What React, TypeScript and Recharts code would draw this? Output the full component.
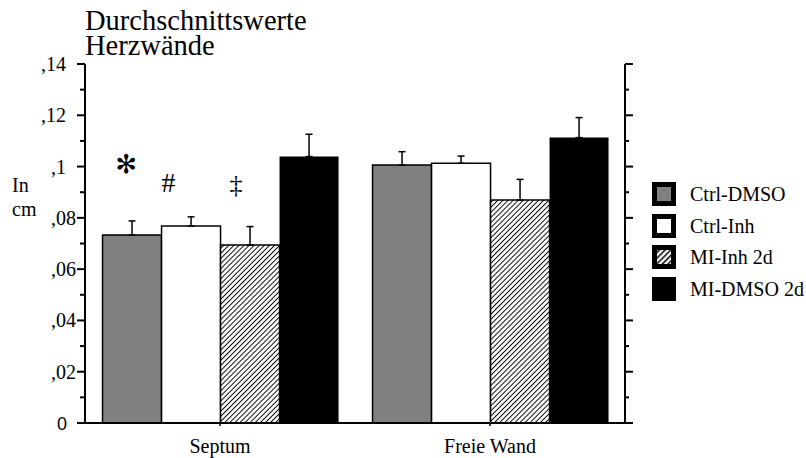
import React from "react";
import { ComposedChart, Bar, Line, XAxis, YAxis, ErrorBar, LabelList, Legend } from "recharts";

const categories = ["Septum", "Freie Wand"];
const seriesNames = ["Ctrl-DMSO", "Ctrl-Inh", "MI-Inh 2d", "MI-DMSO 2d"];

const ctrlDmso = [0.0733, 0.1006];
const ctrlDmsoErr = [0.0055, 0.0052];
const ctrlInh = [0.0768, 0.1013];
const ctrlInhErr = [0.0036, 0.0028];
const miInh = [0.0694, 0.087];
const miInhErr = [0.0072, 0.008];
const miDmso = [0.1039, 0.1113];
const miDmsoErr = [0.0087, 0.0078];

const yTicks = [0, 0.01, 0.02, 0.03, 0.04, 0.05, 0.06, 0.07, 0.08, 0.09, 0.1, 0.11, 0.12, 0.13, 0.14];
const yTickLabels = ["0", ",02", ",04", ",06", ",08", ",1", ",12", ",14"];

// significance marks above the Septum bars (first three series)
const septumMarks = ["✻", "#", "‡"];

const SERIF = "'Liberation Serif', 'Times New Roman', serif";
const SANS = "'Liberation Sans', Arial, sans-serif";

const data = categories.map((name, i) => ({
  name,
  ctrlDmso: ctrlDmso[i],
  ctrlDmsoErr: [0, ctrlDmsoErr[i]],
  ctrlInh: ctrlInh[i],
  ctrlInhErr: [0, ctrlInhErr[i]],
  miInh: miInh[i],
  miInhErr: [0, miInhErr[i]],
  miDmso: miDmso[i],
  miDmsoErr: [0, miDmsoErr[i]],
}));

const series = [
  { key: "ctrlDmso", fill: "#808080" },
  { key: "ctrlInh", fill: "#ffffff" },
  { key: "miInh", fill: "url(#hatch)" },
  { key: "miDmso", fill: "#000000" },
];

// per-mark placement relative to the bar's top-centre (baseline offset)
const markStyle = [
  { dx: -6, dy: -62, size: 26, font: "'DejaVu Sans', sans-serif" },
  { dx: -22.5, dy: -34, size: 28, font: SERIF },
  { dx: -14, dy: -52, size: 26, font: SERIF },
];

const axisStroke = { stroke: "#000", strokeWidth: 2 };
const tickIndex = (v: number) => yTicks.findIndex((t) => Math.abs(t - v) < 1e-9);

// left axis: major ticks 8px with labels, minor ticks 5px
function leftTick(props: any) {
  const { x, y, payload } = props;
  const i = tickIndex(payload.value);
  const major = i % 2 === 0;
  const label = major ? yTickLabels[i / 2] : null;
  let endX = x - 9;
  if (payload.value >= 0.1) endX = x - 19;
  if (i === 0) endX = x - 18;
  return (
    <g key={`lt-${i}`}>
      <path d={`M${x - (major ? 8 : 5)},${y}H${x}`} stroke="#000" strokeWidth={2} fill="none" />
      {label && (
        <text
          x={endX}
          y={y + 7}
          textAnchor="end"
          fontFamily={i === 0 ? SANS : SERIF}
          fontSize={i === 0 ? 18 : 20}
          fill="#000"
        >
          {label}
        </text>
      )}
    </g>
  );
}

// right axis: ticks only, pointing outwards
function rightTick(props: any) {
  const { x, y, payload } = props;
  const i = tickIndex(payload.value);
  const major = i % 2 === 0;
  return (
    <g key={`rt-${i}`}>
      <path d={`M${x},${y}H${x + (major ? 8 : 4)}`} stroke="#000" strokeWidth={2} fill="none" />
    </g>
  );
}

function Swatch({ i }: { i: number }) {
  const inner = ["#808080", "#ffffff", "url(#hatchLegend)", "#000000"][i];
  return (
    <svg width={24} height={24} style={{ display: "block" }}>
      <defs>
        <pattern id="hatchLegend" width={4} height={4} patternUnits="userSpaceOnUse" patternTransform="rotate(45)">
          <rect width={4} height={4} fill="#fff" />
          <line x1={0} y1={0} x2={0} y2={4} stroke="#000" strokeWidth={3} />
        </pattern>
      </defs>
      <rect x={0} y={0} width={24} height={24} fill="#000" />
      <rect x={5} y={5} width={14} height={14} fill={inner} />
    </svg>
  );
}

function LegendBox() {
  return (
    <div style={{ fontFamily: SERIF, fontSize: 20, color: "#000" }}>
      {seriesNames.map((n, i) => (
        <div key={n} style={{ display: "flex", alignItems: "center", height: 31.7 }}>
          <Swatch i={i} />
          <span style={{ marginLeft: 14, lineHeight: "20px" }}>{n}</span>
        </div>
      ))}
    </div>
  );
}

function makeMark(s: number) {
  return (props: any) => {
    const { x, y, width, index } = props;
    if (index !== 0) return null;
    const st = markStyle[s];
    return (
      <text
        x={x + width / 2 + st.dx}
        y={y + st.dy}
        textAnchor="middle"
        fontFamily={st.font}
        fontSize={st.size}
        fill="#000"
      >
        {septumMarks[s]}
      </text>
    );
  };
}

export default function App() {
  return (
    <div style={{ position: "absolute", left: 0, top: 0, width: 806, height: 458, background: "#fff" }}>
      <ComposedChart
        width={806}
        height={458}
        data={data}
        margin={{ top: 64, right: 161, left: 25, bottom: 0 }}
        barCategoryGap="6.5%"
        barGap={0}
      >
        <defs>
          <pattern id="hatch" width={3.6} height={3.6} patternUnits="userSpaceOnUse" patternTransform="rotate(45)">
            <rect width={3.6} height={3.6} fill="#fff" />
            <line x1={0} y1={0} x2={0} y2={3.6} stroke="#000" strokeWidth={1.9} />
          </pattern>
        </defs>
        <text x={85} y={30} fontFamily={SERIF} fontSize={28.5} fill="#000">
          Durchschnittswerte
        </text>
        <text x={85} y={55} fontFamily={SERIF} fontSize={28.5} fill="#000">
          Herzwände
        </text>
        <text x={12} y={192} fontFamily={SERIF} fontSize={20} fill="#000">
          In
        </text>
        <text x={12} y={216} fontFamily={SERIF} fontSize={20} fill="#000">
          cm
        </text>
        <XAxis
          dataKey="name"
          height={35}
          axisLine={axisStroke}
          tickLine={{ stroke: "#000", strokeWidth: 1.5 }}
          tickSize={3}
          tickMargin={13}
          tick={{ fill: "#000", fontFamily: SERIF, fontSize: 20 }}
        />
        <XAxis
          xAxisId="top"
          dataKey="name"
          orientation="top"
          height={0}
          axisLine={axisStroke}
          tickLine={{ stroke: "#000", strokeWidth: 1.5 }}
          tickSize={4}
          tick={false}
        />
        <YAxis
          domain={[0, 0.14]}
          ticks={yTicks}
          interval={0}
          width={60}
          axisLine={axisStroke}
          tickLine={false}
          tickSize={0}
          tickMargin={0}
          tick={leftTick}
        />
        <YAxis
          yAxisId="right"
          orientation="right"
          domain={[0, 0.14]}
          ticks={yTicks}
          interval={0}
          width={20}
          axisLine={axisStroke}
          tickLine={false}
          tickSize={0}
          tickMargin={0}
          tick={rightTick}
        />
        <Legend
          layout="horizontal"
          align="center"
          verticalAlign="middle"
          content={() => <LegendBox />}
          wrapperStyle={{ left: 652, top: 178, width: 154, height: 130 }}
        />
        {series.map((s, i) => (
          <Bar
            key={s.key}
            dataKey={s.key}
            name={seriesNames[i]}
            fill={s.fill}
            stroke="#000"
            strokeWidth={i === 3 ? 0 : 1.5}
            isAnimationActive={false}
          >
            <ErrorBar dataKey={`${s.key}Err`} width={3.5} stroke="#000" strokeWidth={1.5} direction="y" />
            {i < 3 && <LabelList dataKey={s.key} content={makeMark(i)} />}
          </Bar>
        ))}
        {/* invisible series so the mirrored right axis gets a scale and draws its ticks */}
        <Line
          yAxisId="right"
          xAxisId="top"
          dataKey="miDmso"
          stroke="none"
          dot={false}
          activeDot={false}
          legendType="none"
          isAnimationActive={false}
        />
      </ComposedChart>
    </div>
  );
}
